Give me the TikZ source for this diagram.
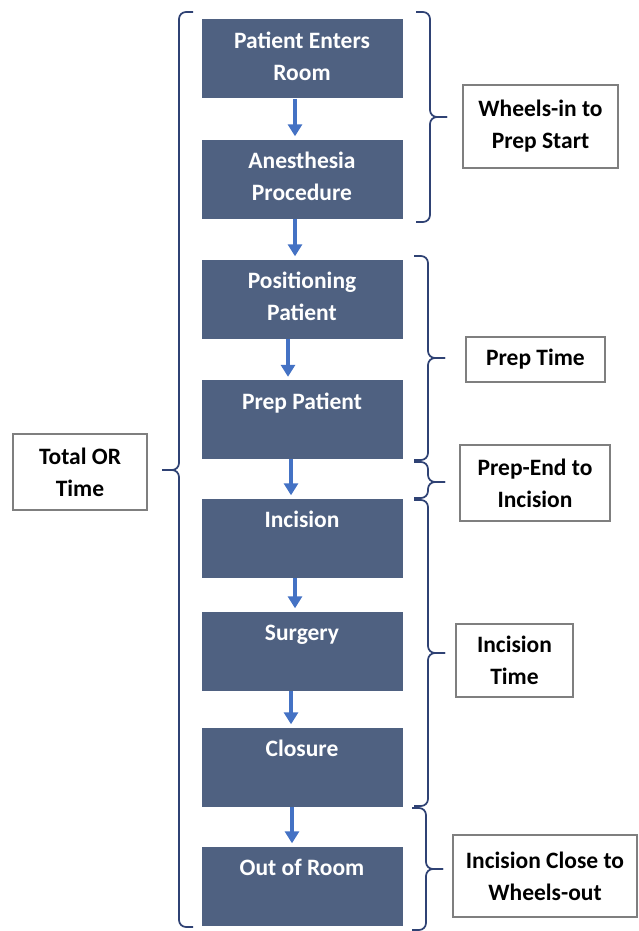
\documentclass[tikz,border=0pt]{standalone}
\usepackage{fontspec}
\setmainfont{Carlito}
\usetikzlibrary{arrows.meta}

\definecolor{stageblue}{HTML}{4F6181}
\definecolor{arrowblue}{HTML}{4472C4}
\definecolor{bracenavy}{HTML}{2F4274}
\definecolor{framegray}{HTML}{7F7F7F}

\newcommand{\stagetext}[1]{\parbox[c][79pt][t]{196pt}{\centering\rule{0pt}{29pt}#1}}
% brace: x of ends, direction (1 right, -1 left), top, middle, bottom
\newcommand{\timebrace}[5]{%
  \draw[bracepath] (#1,#3) -- ({#1+#2*14},#3) -- ({#1+#2*14},#4) -- ({#1+#2*31},#4);
  \draw[bracepath] (#1,#5) -- ({#1+#2*14},#5) -- ({#1+#2*14},#4) -- ({#1+#2*31},#4);}

\tikzset{
  stage/.style={fill=stageblue, text=white, minimum width=201pt, minimum height=79pt,
    inner sep=0pt, font=\fontsize{23.5}{32}\selectfont\bfseries},
  timebox/.style={draw=framegray, line width=1.4pt, fill=white, align=center,
    inner sep=0pt, font=\fontsize{23.5}{32}\selectfont\bfseries},
  flow/.style={draw=arrowblue, line width=3.4pt, shorten >=3pt,
    -{Triangle[width=14pt,length=12pt]}},
  bracepath/.style={draw=bracenavy, line width=1.7pt, rounded corners=7pt},
}

\begin{document}
\begin{tikzpicture}[x=1pt, y=-1pt]
    \useasboundingbox (0,0) rectangle (639,931);

    % Stages
    \node[stage] (enter)    at (302,59)    {\stagetext{Patient Enters\\Room}};
    \node[stage] (anesth)   at (302,179)   {\stagetext{Anesthesia\\Procedure}};
    \node[stage] (position) at (302,299)   {\stagetext{Positioning\\Patient}};
    \node[stage] (prep)     at (302,419.5) {\stagetext{Prep Patient}};
    \node[stage] (incision) at (302,538)   {\stagetext{Incision}};
    \node[stage] (surgery)  at (302,651)   {\stagetext{Surgery}};
    \node[stage] (closure)  at (302,767)   {\stagetext{Closure}};
    \node[stage] (out)      at (302,886)   {\stagetext{Out of Room}};

    % Arrows between stages
    \foreach \a/\b/\dx in {enter/anesth/-7, anesth/position/-7, position/prep/-14,
                           prep/incision/-11, incision/surgery/-7, surgery/closure/-11,
                           closure/out/-10}
      \draw[flow] ([xshift=\dx pt]\a.south) -- ([xshift=\dx pt]\b.north);

    % Time intervals
    \node[timebox, minimum width=155pt, minimum height=83pt] (wheelsin) at (540.5,126.5) {Wheels-in to\\Prep Start};
    \node[timebox, minimum width=139pt, minimum height=45pt] (preptime) at (535.5,359.5) {Prep Time};
    \node[timebox, minimum width=150pt, minimum height=76pt] (prepend)  at (535,483)     {Prep-End to\\Incision};
    \node[timebox, minimum width=117pt, minimum height=73pt] (inctime)  at (514.5,660.5) {Incision\\Time};
    \node[timebox, minimum width=184pt, minimum height=82pt] (closeout) at (545,876)     {Incision Close to\\Wheels-out};
    \node[timebox, minimum width=134pt, minimum height=76pt] (total)    at (80,472)      {Total OR\\Time};

    % Braces
    \timebrace{416}{1}{12}{117}{222}
    \timebrace{414}{1}{256}{358}{460}
    \timebrace{414}{1}{462}{482}{498}
    \timebrace{414}{1}{500}{653}{806}
    \timebrace{412}{1}{808}{869}{930}
    \timebrace{193}{-1}{12}{470}{927}
\end{tikzpicture}
\end{document}
